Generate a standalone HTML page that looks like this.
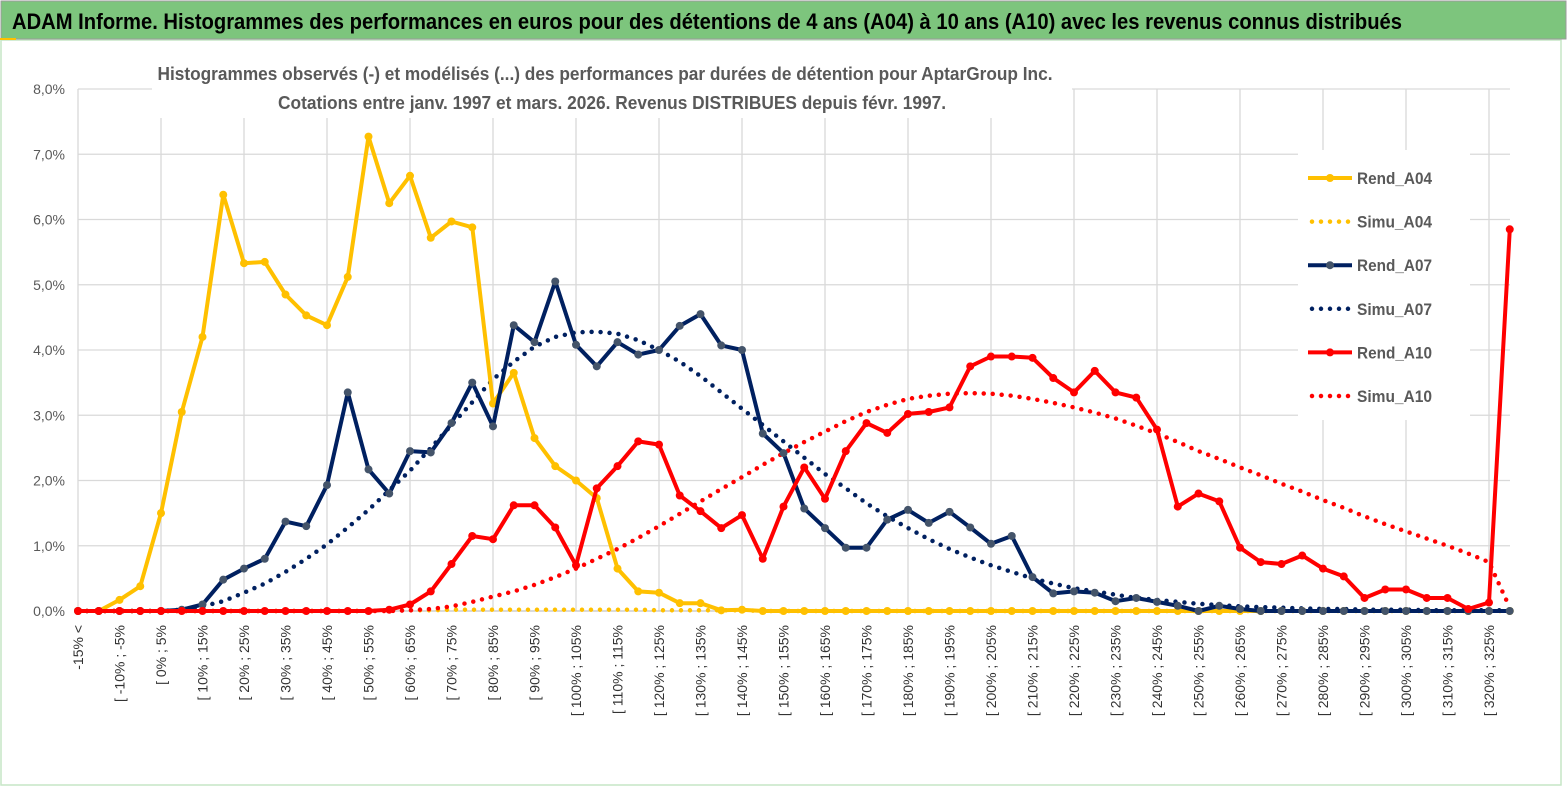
<!DOCTYPE html>
<html><head><meta charset="utf-8"><style>
html,body{margin:0;padding:0;background:#fff;}
svg{display:block;font-family:"Liberation Sans",sans-serif;}
</style></head><body>
<svg id="c" width="1567" height="789" viewBox="0 0 1567 789">
<rect x="0" y="0" width="1567" height="789" fill="#fff"/>
<rect x="1" y="40" width="1560" height="745" fill="none" stroke="#c6e6c6" stroke-width="1.5"/>
<rect x="1" y="1" width="1565" height="38" fill="#7DC57D" stroke="#9a9a9a" stroke-width="1"/>
<text x="12" y="29" font-size="22" font-weight="bold" fill="#000" textLength="1390" lengthAdjust="spacingAndGlyphs">ADAM Informe. Histogrammes des performances en euros pour des détentions de 4 ans (A04) à 10 ans (A10) avec les revenus connus distribués</text>
<rect x="0" y="38" width="16" height="2" fill="#FFC000"/>
<g id="grid"></g>
<rect x="152" y="58" width="920" height="60" fill="#fff"/>
<text x="605" y="80" font-size="18" font-weight="bold" fill="#595959" text-anchor="middle" textLength="895" lengthAdjust="spacingAndGlyphs">Histogrammes observés (-) et modélisés (...) des performances par durées de détention pour AptarGroup Inc.</text>
<text x="612" y="109" font-size="18" font-weight="bold" fill="#595959" text-anchor="middle" textLength="668" lengthAdjust="spacingAndGlyphs">Cotations entre janv. 1997 et mars. 2026. Revenus DISTRIBUES depuis févr. 1997.</text>
<g id="axes"></g>
<g id="series"></g>
<rect x="1298" y="150" width="172" height="270" fill="#fff"/>
<g id="legend"></g>
</svg>
<script>
const categories=["-15% <"];
for(let a=-15;a<330;a+=5){categories.push("[ "+a+"% ; "+(a+5)+"%");}
const yTicks=[0,1,2,3,4,5,6,7,8];
const rendA04=[0,0,0.17,0.38,1.5,3.05,4.2,6.38,5.33,5.35,4.85,4.53,4.38,5.12,7.27,6.25,6.67,5.72,5.97,5.88,3.18,3.65,2.65,2.22,2.0,1.73,0.65,0.3,0.28,0.12,0.12,0.01,0.02,0,0,0,0,0,0,0,0,0,0,0,0,0,0,0,0,0,0,0,0,0,0,0,0,0,0,0,0,0,0,0,0,0,0,0,0,0];
const simuA04=[0,0,0,0,0,0,0,0,0,0,0,0,0,0,0,0.01,0.01,0.01,0.02,0.02,0.02,0.02,0.02,0.02,0.02,0.02,0.02,0.02,0.01,0.01,0.01,0.01,0.01,0,0,0,0,0,0,0,0,0,0,0,0,0,0,0,0,0,0,0,0,0,0,0,0,0,0,0,0,0,0,0,0,0,0,0,0,0];
const rendA07=[0,0,0,0,0,0.02,0.1,0.48,0.65,0.8,1.37,1.3,1.93,3.35,2.17,1.8,2.45,2.43,2.88,3.5,2.83,4.38,4.12,5.05,4.08,3.75,4.12,3.93,4.0,4.37,4.55,4.07,4.0,2.72,2.42,1.57,1.27,0.97,0.97,1.4,1.55,1.35,1.52,1.28,1.03,1.15,0.52,0.27,0.3,0.28,0.15,0.2,0.14,0.08,0,0.08,0.03,0,0,0,0,0,0,0,0,0,0,0,0,0];
const simuA07=[0,0,0,0,0,0.02,0.07,0.15,0.28,0.42,0.6,0.8,1.02,1.28,1.55,1.85,2.15,2.5,2.85,3.2,3.55,3.82,4.05,4.2,4.27,4.28,4.25,4.15,4.0,3.82,3.6,3.35,3.1,2.85,2.6,2.35,2.1,1.88,1.65,1.45,1.27,1.1,0.95,0.82,0.7,0.6,0.5,0.42,0.35,0.3,0.25,0.2,0.17,0.14,0.11,0.09,0.07,0.06,0.05,0.04,0.03,0.03,0.02,0.02,0.02,0.01,0.01,0.01,0.01,0.01];
const rendA10=[0,0,0,0,0,0,0,0,0,0,0,0,0,0,0,0.02,0.1,0.3,0.72,1.15,1.1,1.62,1.62,1.28,0.7,1.88,2.22,2.6,2.55,1.77,1.53,1.27,1.47,0.8,1.6,2.2,1.72,2.45,2.88,2.73,3.02,3.05,3.12,3.75,3.9,3.9,3.88,3.57,3.35,3.68,3.35,3.27,2.78,1.6,1.8,1.68,0.97,0.75,0.72,0.85,0.65,0.53,0.2,0.33,0.33,0.2,0.2,0.03,0.13,5.85];
const simuA10=[0,0,0,0,0,0,0,0,0,0,0,0,0,0,0,0,0.01,0.03,0.07,0.14,0.22,0.3,0.4,0.52,0.65,0.8,0.95,1.12,1.3,1.49,1.68,1.87,2.05,2.24,2.42,2.59,2.75,2.91,3.05,3.16,3.25,3.3,3.33,3.34,3.33,3.3,3.25,3.19,3.12,3.04,2.95,2.84,2.72,2.59,2.45,2.33,2.2,2.08,1.95,1.83,1.7,1.58,1.45,1.33,1.22,1.11,1.0,0.88,0.75,0.05];
const NS="http://www.w3.org/2000/svg";
const X0=78,DX=20.75,Y0=611,DY=65.25;
function xs(i){return X0+DX*i;}
function ys(v){return Y0-DY*v;}
function mk(t,a,p){const e=document.createElementNS(NS,t);for(const k in a)e.setAttribute(k,a[k]);p.appendChild(e);return e;}
const grid=document.getElementById('grid'),axes=document.getElementById('axes'),ser=document.getElementById('series'),leg=document.getElementById('legend');
yTicks.forEach(v=>{
 const l=mk('line',{x1:X0,x2:1510,y1:ys(v),y2:ys(v),stroke:'#d9d9d9','stroke-width':1.3},grid);
 
 
 const t=mk('text',{x:65,y:ys(v)+5,'font-size':14,fill:'#595959','text-anchor':'end'},axes);
 t.textContent=v.toFixed(1).replace('.',',')+'%';
 
 
});
for(let i=0;i<categories.length;i+=4){
 const l=mk('line',{x1:xs(i),x2:xs(i),y1:ys(8),y2:Y0,stroke:'#d9d9d9','stroke-width':1.3},grid);
 
 
}
mk('line',{x1:X0,x2:1510,y1:Y0,y2:Y0,stroke:'#bfbfbf','stroke-width':1},axes);
categories.forEach((c,i)=>{
 if(i%2)return;
 const t=mk('text',{transform:`translate(${xs(i)+5},625) rotate(-90)`,'font-size':14,fill:'#333','text-anchor':'end'},axes);
 t.textContent=c;
 
 
});
function pts(d){return d.map((v,i)=>xs(i).toFixed(1)+','+ys(v).toFixed(1)).join(' ');}
function dotted(d,col,name){
 const p=mk('polyline',{points:pts(d),fill:'none',stroke:col,'stroke-width':4.5,'stroke-dasharray':'0 9','stroke-linecap':'round','stroke-linejoin':'round'},ser);
 
 
}
function solid(d,col,mcol,name){
 const p=mk('polyline',{points:pts(d),fill:'none',stroke:col,'stroke-width':4,'stroke-linejoin':'round'},ser);
 
 
 d.forEach((v,i)=>{
  const c=mk('circle',{cx:xs(i),cy:ys(v),r:4,fill:mcol},ser);
  
  
 });
}
dotted(simuA04,'#FFC000','simu-a04-line');
dotted(simuA07,'#002060','simu-a07-line');
dotted(simuA10,'#FF0000','simu-a10-line');
solid(rendA04,'#FFC000','#FFC000','rend-a04-line');
solid(rendA07,'#002060','#44546A','rend-a07-line');
solid(rendA10,'#FF0000','#FF0000','rend-a10-line');
const legendItems=[['Rend_A04','#FFC000','#FFC000',0],['Simu_A04','#FFC000','#FFC000',1],['Rend_A07','#002060','#44546A',0],['Simu_A07','#002060','#002060',1],['Rend_A10','#FF0000','#FF0000',0],['Simu_A10','#FF0000','#FF0000',1]];
legendItems.forEach((it,k)=>{
 const y=178+k*43.6;
 const g=mk('g',{},leg);
 
 
 if(it[3]) mk('line',{x1:1312,x2:1350,y1:y,y2:y,stroke:it[1],'stroke-width':4.5,'stroke-dasharray':'0 9','stroke-linecap':'round'},g);
 else {mk('line',{x1:1308,x2:1352,y1:y,y2:y,stroke:it[1],'stroke-width':4},g);mk('circle',{cx:1330,cy:y,r:4,fill:it[2]},g);}
 const t=mk('text',{x:1357,y:y+6,'font-size':17,'font-weight':'bold',fill:'#595959',textLength:75,lengthAdjust:'spacingAndGlyphs'},g);
 t.textContent=it[0];
});
</script>
</body></html>
